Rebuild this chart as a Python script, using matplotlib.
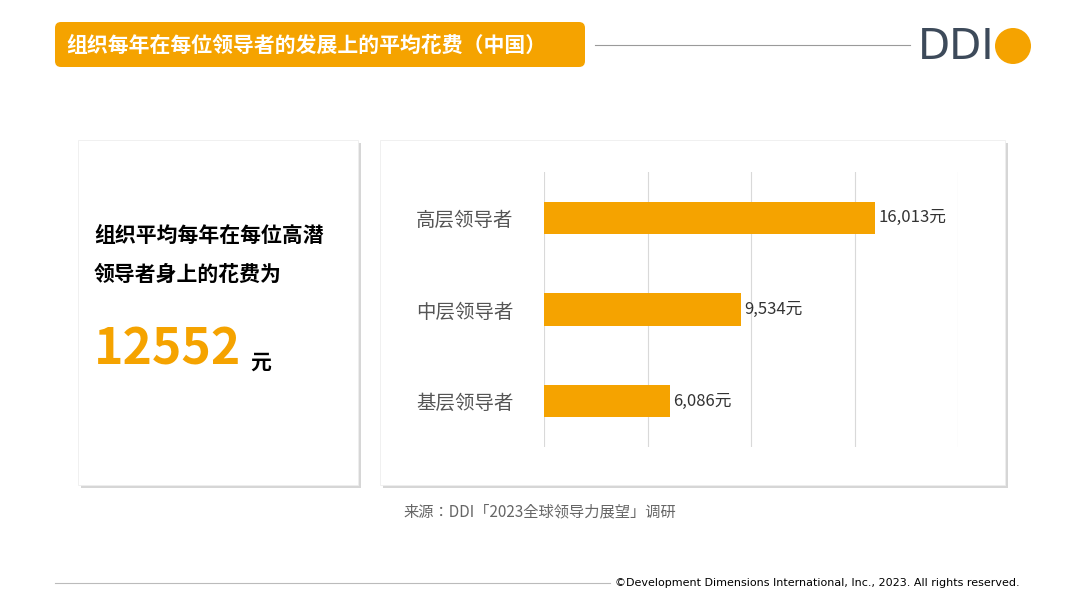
import matplotlib.pyplot as plt
from matplotlib import font_manager
from matplotlib.patches import FancyBboxPatch, Rectangle, Circle

# pick an installed CJK family
names = {f.name for f in font_manager.fontManager.ttflist}
cjk = next((n for n in names if 'CJK' in n), 'DejaVu Sans')
plt.rcParams['font.family'] = [cjk, 'DejaVu Sans']

levels = ['高层领导者', '中层领导者', '基层领导者']
spend = [16013, 9534, 6086]
avg_spend = 12552

ORANGE = '#F5A300'
W, H = 1080, 608

fig = plt.figure(figsize=(10.8, 6.08), dpi=100)
bg = fig.add_axes([0, 0, 1, 1])
bg.set_xlim(0, W)
bg.set_ylim(H, 0)
bg.axis('off')

# title bar
bg.add_patch(FancyBboxPatch((55, 22), 530, 45, boxstyle='round,pad=0,rounding_size=6',
                            fc=ORANGE, ec='none'))
bg.text(66, 45, '组织每年在每位领导者的发展上的平均花费（中国）', color='white',
        fontsize=15, fontweight='bold', va='center')
bg.plot([595, 910], [45, 45], color='#9a9a9a', lw=0.8)
bg.text(918, 47, 'DDI', color='#3d4a5a', fontsize=30, va='center', fontfamily='DejaVu Sans')
bg.add_patch(Circle((1013, 46), 18, fc=ORANGE, ec='none'))

# cards with shadow
for x0, x1 in [(78, 358), (380, 1005)]:
    bg.add_patch(Rectangle((x0 + 3, 143), x1 - x0, 345, fc='#d6d6d6', ec='none'))
    bg.add_patch(Rectangle((x0, 140), x1 - x0, 345, fc='white', ec='#eeeeee', lw=0.6))

bg.text(94, 235, '组织平均每年在每位高潜', fontsize=15, fontweight='bold', va='center')
bg.text(94, 274, '领导者身上的花费为', fontsize=15, fontweight='bold', va='center')
bg.text(94, 350, f'{avg_spend}', fontsize=36, fontweight='bold', color=ORANGE, va='center')
bg.text(250, 362, '元', fontsize=15, fontweight='bold', va='center')

bg.text(540, 512, '来源：DDI「2023全球领导力展望」调研', fontsize=11, color='#666666',
        ha='center', va='center')
bg.plot([55, 610], [583, 583], color='#bbbbbb', lw=0.8)
bg.text(1020, 583, '©Development Dimensions International, Inc., 2023. All rights reserved.',
        fontsize=8, ha='right', va='center', fontfamily='DejaVu Sans')

# bar chart
ax = fig.add_axes([544 / W, 1 - 447 / H, 414 / W, 275 / H])
ypos = list(range(len(levels)))
ax.barh(ypos, spend, height=0.35, color=ORANGE)
ax.set_xlim(0, 20000)
ax.set_ylim(2.5, -0.5)
ax.set_xticks([0, 5000, 10000, 15000, 20000])
ax.xaxis.grid(True, color='#d9d9d9', lw=0.8)
ax.set_axisbelow(True)
ax.tick_params(length=0, labelbottom=False)
ax.set_yticks(ypos)
ax.set_yticklabels(levels, fontsize=14, color='#555555')
ax.tick_params(axis='y', pad=22)
for s in ax.spines.values():
    s.set_visible(False)
for y, v in zip(ypos, spend):
    ax.text(v + 150, y, f'{v:,}元', va='center', fontsize=12, color='#333333')

fig.savefig('out.png', dpi=100)
